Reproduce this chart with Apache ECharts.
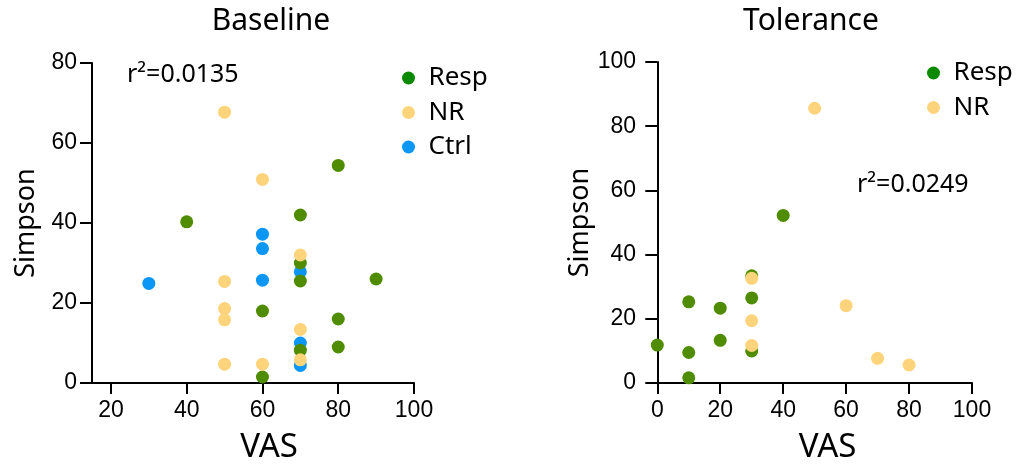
<!DOCTYPE html>
<html>
<head>
<meta charset="utf-8">
<script src="https://cdn.jsdelivr.net/npm/echarts@6/dist/echarts.min.js"></script>
<style>
  html, body { margin: 0; padding: 0; background: #fff; }
  #chart { width: 1017px; height: 471px; }
</style>
</head>
<body>
<div id="chart"></div>
<script>
// values: [VAS, Simpson]
const baselineResp = [[40, 40.3], [80, 54.4], [70, 42], [70, 30], [70, 25.5], [90, 26], [60, 18], [80, 16], [80, 9], [70, 8.2], [60, 1.5]];
const baselineNR = [[50, 67.7], [60, 50.9], [70, 32], [50, 25.4], [50, 18.6], [50, 15.8], [70, 13.4], [50, 4.7], [60, 4.7], [70, 5.8]];
const baselineCtrl = [[30, 24.9], [60, 37.2], [60, 33.6], [60, 25.7], [70, 27.8], [70, 10], [70, 4.4]];
const toleranceResp = [[0, 11.8], [10, 25.3], [10, 9.5], [10, 1.6], [20, 23.3], [20, 13.3], [30, 33.4], [30, 26.5], [30, 10], [40, 52.2]];
const toleranceNR = [[50, 85.6], [30, 32.6], [30, 19.4], [30, 11.7], [60, 24.1], [70, 7.7], [80, 5.6]];
const vasTicks = [20, 40, 60, 80, 100];
const vasTicksTol = [0, 20, 40, 60, 80, 100];

const GREEN = "#4f8c00", GREEN_LEG = "#0b8a00", ORANGE = "#fdd47c", BLUE = "#0c96f6";
const labelFont = "Noto Sans";
const tickFont = "Liberation Sans, Arial, sans-serif";

function xAxis(gridIndex, min, ticks) {
  return {
    gridIndex: gridIndex, type: "value", min: min, max: 100,
    name: "VAS", nameLocation: "middle", nameGap: 48,
    nameTextStyle: { fontFamily: labelFont, fontSize: 33, color: "#000", padding: [0, 0, 0, 32] },
    axisLine: { show: true, lineStyle: { color: "#000", width: 2 } },
    axisTick: { show: true, length: 11, customValues: ticks, lineStyle: { color: "#000", width: 2 } },
    axisLabel: { customValues: ticks, margin: 16, fontFamily: tickFont, fontSize: 23, color: "#000" },
    splitLine: { show: false }
  };
}
function yAxis(gridIndex, max) {
  return {
    gridIndex: gridIndex, type: "value", min: 0, max: max, interval: 20,
    name: "Simpson", nameLocation: "middle", nameGap: 52,
    nameTextStyle: { fontFamily: labelFont, fontSize: 27, color: "#000" },
    axisLine: { show: true, lineStyle: { color: "#000", width: 2 } },
    axisTick: { show: true, length: 12, lineStyle: { color: "#000", width: 2 } },
    axisLabel: { margin: 15, fontFamily: tickFont, fontSize: 23, color: "#000" },
    splitLine: { show: false }
  };
}
function scatter(name, data, color, idx) {
  return {
    name: name, type: "scatter", xAxisIndex: idx, yAxisIndex: idx,
    data: data, symbolSize: 13, itemStyle: { color: color, opacity: 1 },
    emphasis: { disabled: true }
  };
}
function legend(left, top, names) {
  const colors = { Resp: GREEN_LEG, NR: ORANGE, Ctrl: BLUE };
  return {
    orient: "vertical", left: left, top: top, icon: "circle",
    itemWidth: 30, itemHeight: 13, itemGap: 8.5,
    textStyle: { fontFamily: labelFont, fontSize: 26, color: "#000", lineHeight: 26 },
    data: names.map(n => ({ name: n, itemStyle: { color: colors[n] } }))
  };
}

const chart = echarts.init(document.getElementById("chart"));
chart.setOption({
  animation: false,
  title: [
    { text: "Baseline", left: 266, top: 1, textAlign: "center", textStyle: { fontFamily: labelFont, fontSize: 30, fontWeight: "normal", color: "#000" } },
    { text: "Tolerance", left: 806, top: 1, textAlign: "center", textStyle: { fontFamily: labelFont, fontSize: 30, fontWeight: "normal", color: "#000" } },
    { text: "r²=0.0135", left: 122, top: 57, textStyle: { fontFamily: labelFont, fontSize: 25, fontWeight: "normal", color: "#000" } },
    { text: "r²=0.0249", left: 852, top: 167, textStyle: { fontFamily: labelFont, fontSize: 25, fontWeight: "normal", color: "#000" } }
  ],
  legend: [
    legend(397, 60, ["Resp", "NR", "Ctrl"]),
    legend(922, 55, ["Resp", "NR"])
  ],
  grid: [
    { left: 92, top: 63, width: 322, height: 320 },
    { left: 651, top: 62, width: 321, height: 321 }
  ],
  xAxis: [xAxis(0, 15, vasTicks), xAxis(1, -2, vasTicksTol)],
  yAxis: [yAxis(0, 80), yAxis(1, 100)],
  series: [
    scatter("Ctrl", baselineCtrl, BLUE, 0),
    scatter("Resp", baselineResp, GREEN, 0),
    scatter("NR", baselineNR, ORANGE, 0),
    scatter("Resp", toleranceResp, GREEN, 1),
    scatter("NR", toleranceNR, ORANGE, 1)
  ]
});
</script>
</body>
</html>
